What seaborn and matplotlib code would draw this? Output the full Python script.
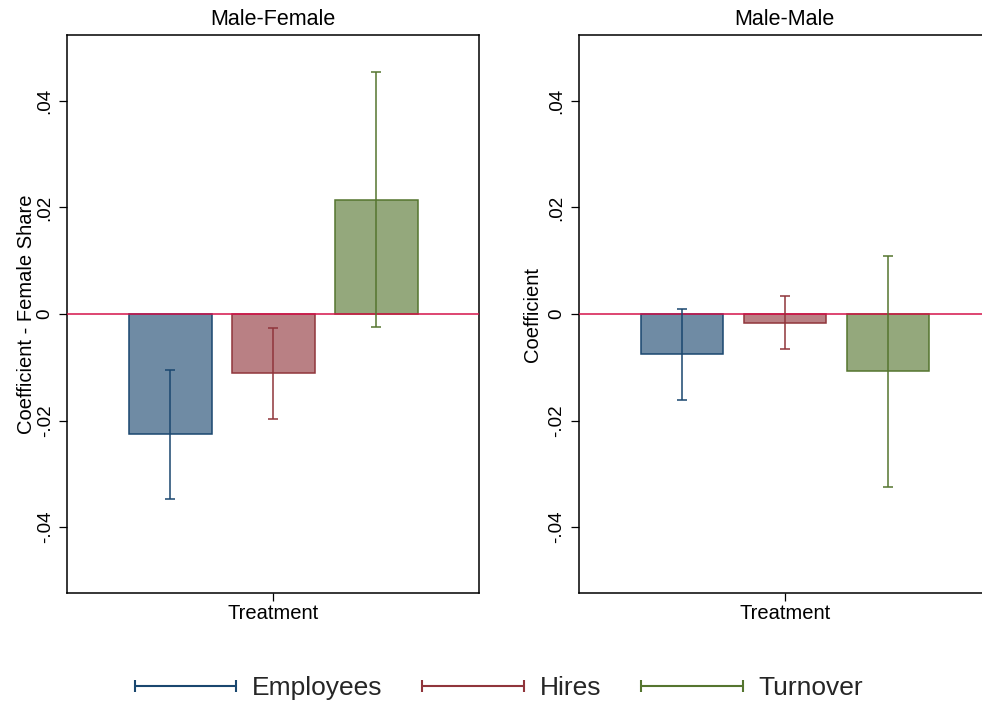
import matplotlib
matplotlib.use("Agg")
import matplotlib.pyplot as plt
import seaborn as sns
import pandas as pd
from matplotlib.lines import Line2D
from matplotlib.legend_handler import HandlerLine2D
from matplotlib.colors import to_rgb

# ---------------- data ----------------
panels = ["Male-Female", "Male-Male"]
outcomes = ["Employees", "Hires", "Turnover"]
group_label = "Treatment"
ylabels = ["Coefficient - Female Share", "Coefficient"]

coef_mf = [-0.0225, -0.0111, 0.0214]
lo_mf = [-0.0347, -0.0197, -0.0024]
hi_mf = [-0.0105, -0.0026, 0.0454]

coef_mm = [-0.0075, -0.0016, -0.0107]
lo_mm = [-0.0161, -0.0066, -0.0324]
hi_mm = [0.0009, 0.0034, 0.0108]

ytick_vals = [-0.04, -0.02, 0, 0.02, 0.04]
ytick_labels = ["-.04", "-.02", "0", ".02", ".04"]

# ---------------- style ----------------
line_colors = ["#1a476f", "#90353b", "#55752f"]
zero_color = "#d4134a"


def tint(c, k=0.63):
    r, g, b = to_rgb(c)
    return (1 - k * (1 - r), 1 - k * (1 - g), 1 - k * (1 - b))


fill_colors = [tint(c) for c in line_colors]

sns.set_style("white")
plt.rcParams["font.family"] = ["Liberation Sans", "DejaVu Sans"]

W, H = 982, 705
fig = plt.figure(figsize=(W / 100, H / 100), dpi=100)

ax_bottom = (H - 593.3) / H
ax_height = (593.3 - 34.7) / H
ax_width = 412 / W
lefts = [67.3 / W, 578.7 / W]
ylab_x = [-0.076, -0.088]

panel_data = [
    (coef_mf, lo_mf, hi_mf),
    (coef_mm, lo_mm, hi_mm),
]

for i, panel in enumerate(panels):
    coef, lo, hi = panel_data[i]
    df = pd.DataFrame({
        "group": [group_label] * len(outcomes),
        "outcome": outcomes,
        "coef": coef,
        "lo": lo,
        "hi": hi,
    })
    ax = fig.add_axes([lefts[i], ax_bottom, ax_width, ax_height])
    sns.barplot(data=df, x="group", y="coef", hue="outcome",
                hue_order=outcomes, palette=fill_colors, width=0.75,
                gap=0.2, errorbar=None, legend=False, ax=ax, zorder=2,
                saturation=1)
    bars = sorted([p for p in ax.patches if p.get_width() > 0],
                  key=lambda p: p.get_x())
    for bar, row, lc in zip(bars, df.itertuples(), line_colors):
        bar.set_edgecolor(lc)
        bar.set_linewidth(1.1)
        cx = bar.get_x() + bar.get_width() / 2
        ax.errorbar([cx], [row.coef],
                    yerr=[[row.coef - row.lo], [row.hi - row.coef]],
                    fmt="none", ecolor=lc, elinewidth=1.1, capsize=3.6,
                    capthick=1.1, zorder=4)
    ax.axhline(0, color=zero_color, lw=1.1, zorder=3)

    ax.set_xlim(-0.5, 0.5)
    ax.set_ylim(-0.0524, 0.0524)
    ax.set_yticks(ytick_vals)
    ax.set_yticklabels(ytick_labels)
    ax.set_xlabel("")
    ax.set_ylabel(ylabels[i], fontsize=14.5, color="black")
    ax.yaxis.set_label_coords(ylab_x[i], 0.5)
    ax.set_title(panel, fontsize=15.5, pad=7, color="black")

    ax.tick_params(axis="y", direction="out", length=5.8, width=0.9,
                   labelsize=13.5, labelrotation=90, pad=4, colors="black",
                   left=True)
    for lab in ax.get_yticklabels():
        lab.set_va("center")
    ax.tick_params(axis="x", direction="out", length=5.8, width=0.9,
                   labelsize=14.5, pad=2, colors="black", bottom=True)
    for s in ax.spines.values():
        s.set_visible(True)
        s.set_color("black")
        s.set_linewidth(1.1)

handles = [Line2D([], [], color=c, lw=1.5, marker="|", markersize=8.6,
                  markeredgewidth=1.5) for c in line_colors]
fig.legend(handles, outcomes, loc="center",
           bbox_to_anchor=(499 / W, 1 - 688 / H), ncol=3, frameon=False,
           fontsize=19, handlelength=3.86, handletextpad=0.6,
           columnspacing=1.5, numpoints=2,
           handler_map={Line2D: HandlerLine2D(marker_pad=0, numpoints=2)})

fig.savefig("out.png", dpi=100)
